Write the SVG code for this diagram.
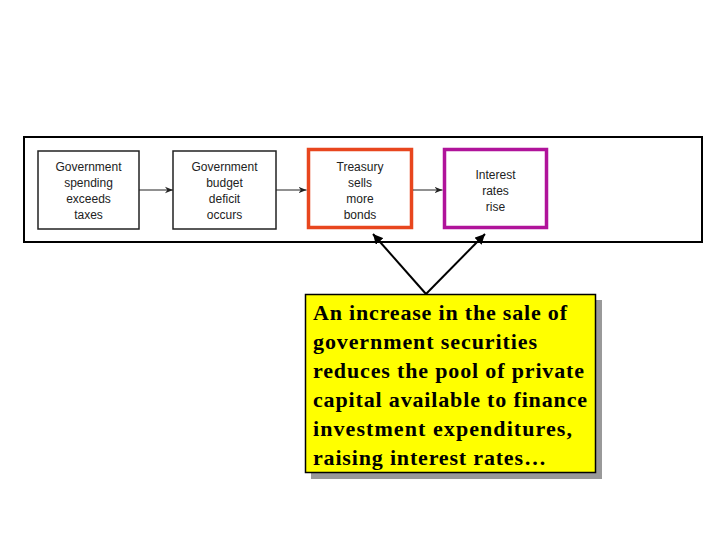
<svg xmlns="http://www.w3.org/2000/svg" width="720" height="540" viewBox="0 0 720 540">
<style>
.t{font-family:"Liberation Sans",Arial,sans-serif;font-size:12px;fill:#222;text-anchor:middle}
.c{font-family:"Liberation Serif","Times New Roman",serif;font-size:22px;font-weight:bold;fill:#000}
.box{fill:#fff;stroke:#222;stroke-width:1.5}
.ln{stroke:#222;stroke-width:1;fill:none}
.bl{stroke:#000;stroke-width:2;fill:none}
</style>
<defs>
<marker id="sm" viewBox="0 0 10 10" refX="10" refY="5" markerWidth="8" markerHeight="8" markerUnits="userSpaceOnUse" orient="auto"><path d="M0,1 L10,5 L0,9 L3,5 z" fill="#222"/></marker>
<marker id="bg" viewBox="0 0 10 10" refX="10" refY="5" markerWidth="10" markerHeight="10" markerUnits="userSpaceOnUse" orient="auto"><path d="M0,0 L10,5 L0,10 z" fill="#000"/></marker>
</defs>
<rect x="0" y="0" width="720" height="540" fill="#fff"/>
<rect id="frame" x="24" y="137" width="678" height="105" fill="#fff" stroke="#000" stroke-width="2"/>
<g id="n1"><rect class="box" x="38" y="151" width="101" height="78"/>
<text class="t" x="88.5" y="171">Government</text><text class="t" x="88.5" y="187">spending</text><text class="t" x="88.5" y="203">exceeds</text><text class="t" x="88.5" y="219">taxes</text></g>
<g id="n2"><rect class="box" x="173" y="151" width="103" height="78"/>
<text class="t" x="224.5" y="171">Government</text><text class="t" x="224.5" y="187">budget</text><text class="t" x="224.5" y="203">deficit</text><text class="t" x="224.5" y="219">occurs</text></g>
<g id="n3"><rect x="308.5" y="149.5" width="103" height="78" fill="#fff" stroke="#e8461e" stroke-width="3.5"/>
<text class="t" x="360" y="171">Treasury</text><text class="t" x="360" y="187">sells</text><text class="t" x="360" y="203">more</text><text class="t" x="360" y="219">bonds</text></g>
<g id="n4"><rect x="444.5" y="149.5" width="102" height="78" fill="#fff" stroke="#b0139a" stroke-width="3.5"/>
<text class="t" x="495.5" y="179">Interest</text><text class="t" x="495.5" y="195">rates</text><text class="t" x="495.5" y="211">rise</text></g>
<g id="callout">
<rect x="311" y="300" width="291" height="179" fill="#999"/>
<rect x="305.5" y="294.5" width="290" height="178" fill="#ffff00" stroke="#000" stroke-width="1.5"/>
<text class="c" x="313" y="320" textLength="254" lengthAdjust="spacing">An increase in the sale of</text>
<text class="c" x="313" y="349" textLength="224" lengthAdjust="spacing">government securities</text>
<text class="c" x="313" y="378" textLength="271" lengthAdjust="spacing">reduces the pool of private</text>
<text class="c" x="313" y="407" textLength="274" lengthAdjust="spacing">capital available to finance</text>
<text class="c" x="313" y="436" textLength="259" lengthAdjust="spacing">investment expenditures,</text>
<text class="c" x="313" y="465"><tspan textLength="210" lengthAdjust="spacing">raising interest rates</tspan><tspan x="524">…</tspan></text>
</g>
<g id="connectors">
<line class="ln" x1="139" y1="190" x2="173" y2="190" marker-end="url(#sm)"/>
<line class="ln" x1="276" y1="190" x2="306.5" y2="190" marker-end="url(#sm)"/>
<line class="ln" x1="413" y1="190" x2="442.5" y2="190" marker-end="url(#sm)"/>
<line class="bl" x1="426" y1="294" x2="373" y2="234" marker-end="url(#bg)"/>
<line class="bl" x1="426" y1="294" x2="485" y2="234" marker-end="url(#bg)"/>
</g>
</svg>
